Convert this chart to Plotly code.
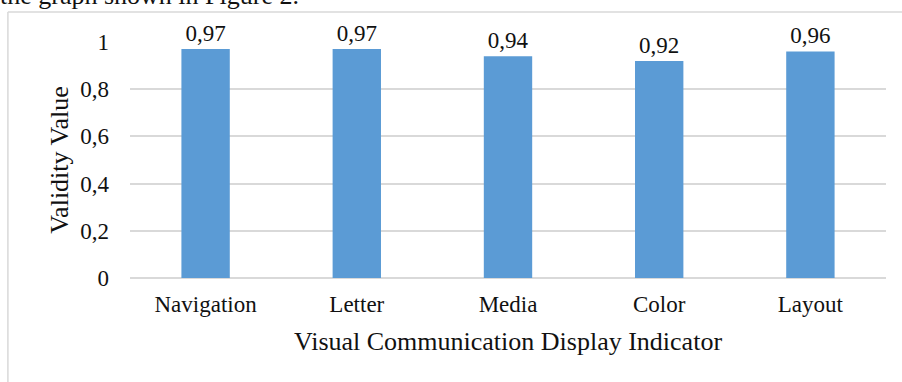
import plotly.graph_objects as go

categories = ["Navigation", "Letter", "Media", "Color", "Layout"]
validity = [0.97, 0.97, 0.94, 0.92, 0.96]

FONT = "Liberation Serif, Times New Roman, serif"
GRID = "#d9d9d9"

fig = go.Figure(
    go.Bar(
        x=categories,
        y=validity,
        marker=dict(color="#5b9bd5", line=dict(width=0)),
        width=0.32,
        texttemplate="%{y:.2f}",
        textposition="outside",
        textfont=dict(family=FONT, size=23, color="#111111"),
        cliponaxis=False,
    )
)

fig.update_layout(
    width=902,
    height=382,
    margin=dict(l=130, r=16, t=42, b=104),
    paper_bgcolor="white",
    plot_bgcolor="white",
    separators=",.",
    showlegend=False,
    font=dict(family=FONT, size=23, color="#111111"),
    xaxis=dict(
        showgrid=False,
        showline=False,
        ticks="",
        ticklabelstandoff=10,
        tickfont=dict(family=FONT, size=23),
        title=dict(text="Visual Communication Display Indicator",
                   font=dict(family=FONT, size=26), standoff=15),
    ),
    yaxis=dict(
        range=[0, 1],
        dtick=0.2,
        showgrid=True,
        gridcolor=GRID,
        gridwidth=1.5,
        zeroline=True,
        zerolinecolor=GRID,
        zerolinewidth=1.5,
        showline=False,
        ticks="",
        ticklabelstandoff=20,
        tickfont=dict(family=FONT, size=23),
        title=dict(text="Validity Value", font=dict(family=FONT, size=26), standoff=4),
    ),
    shapes=[
        dict(type="line", xref="paper", yref="paper",
             x0=-0.1615, x1=-0.1615, y0=1.127, y1=-0.45,
             line=dict(color=GRID, width=1.5)),
        dict(type="line", xref="paper", yref="paper",
             x0=-0.1615, x1=1.03, y0=1.127, y1=1.127,
             line=dict(color=GRID, width=1.5)),
    ],
    annotations=[
        dict(text="the graph shown in Figure 2.", xref="paper", yref="paper",
             x=-0.175, y=1.128, xanchor="left", yanchor="bottom",
             showarrow=False, font=dict(family=FONT, size=26, color="#111111")),
    ],
)

fig.write_html("out.html")
